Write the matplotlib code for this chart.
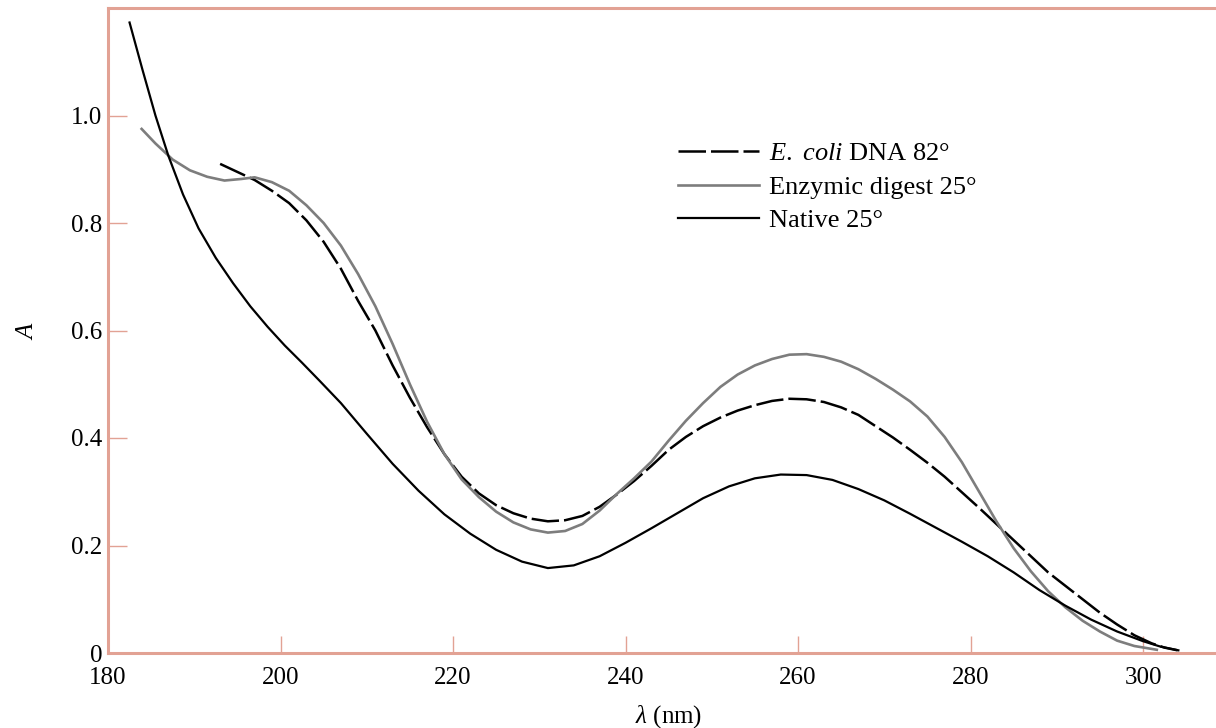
import matplotlib
matplotlib.use("Agg")
from matplotlib import pyplot as plt

plt.rcParams["font.family"] = ["Liberation Serif", "DejaVu Serif"]
plt.rcParams["mathtext.fontset"] = "custom"
plt.rcParams["mathtext.rm"] = "Liberation Serif"
plt.rcParams["mathtext.it"] = "Liberation Serif:italic"

# native DNA, 25 deg
native_x = [182.5, 184, 185.5, 187, 188.7, 190.5, 192.5, 194.5, 196.5, 198.5,
            200.5, 202.5, 204.5, 207, 210, 213, 216, 219, 222, 225, 228, 231,
            234, 237, 240, 243, 246, 249, 252, 255, 258, 261, 264, 267, 270,
            273, 276, 279, 282, 285, 288, 291, 294, 297, 300, 302, 304.1]
native_a = [1.173, 1.085, 1.0, 0.925, 0.853, 0.79, 0.735, 0.688, 0.645, 0.607,
            0.572, 0.54, 0.507, 0.465, 0.408, 0.352, 0.302, 0.258, 0.222, 0.192,
            0.17, 0.158, 0.163, 0.18, 0.205, 0.232, 0.26, 0.288, 0.31, 0.325,
            0.332, 0.331, 0.322, 0.305, 0.284, 0.259, 0.233, 0.207, 0.18, 0.15,
            0.117, 0.088, 0.062, 0.04, 0.022, 0.012, 0.005]

# E. coli DNA at 82 deg
hot_x = [193, 195, 197, 199, 201, 203, 205, 207, 209, 211, 213, 215, 217, 219,
         221, 223, 225, 227, 229, 231, 233, 235, 237, 239, 241, 243, 245, 247,
         249, 251, 253, 255, 257, 259, 261, 263, 265, 267, 269, 271, 273, 275,
         277, 279, 281, 283, 285, 287, 289, 291, 293, 295, 297, 299, 301,
         302.5, 304]
hot_a = [0.91, 0.895, 0.88, 0.86, 0.837, 0.805, 0.765, 0.715, 0.655, 0.6,
         0.535, 0.475, 0.42, 0.37, 0.328, 0.297, 0.275, 0.26, 0.25, 0.245,
         0.247, 0.255, 0.272, 0.295, 0.32, 0.348, 0.378, 0.402, 0.422, 0.438,
         0.451, 0.461, 0.469, 0.473, 0.472, 0.467, 0.457, 0.443, 0.422, 0.401,
         0.378, 0.354, 0.328, 0.299, 0.27, 0.24, 0.21, 0.18, 0.15, 0.125, 0.1,
         0.075, 0.053, 0.033, 0.018, 0.01, 0.005]

# enzymic digest, 25 deg
digest_x = [183.9, 185.5, 187.5, 189.5, 191.5, 193.5, 195.5, 197, 199, 201,
            203, 205, 207, 209, 211, 213, 215, 217, 219, 221, 223, 225, 227,
            229, 231, 233, 235, 237, 239, 241, 243, 245, 247, 249, 251, 253,
            255, 257, 259, 261, 263, 265, 267, 269, 271, 273, 275, 277, 279,
            281, 283, 285, 287, 289, 291, 293, 295, 297, 299, 301.6]
digest_a = [0.975, 0.948, 0.918, 0.898, 0.886, 0.879, 0.882, 0.885, 0.876,
            0.86, 0.833, 0.8, 0.758, 0.705, 0.645, 0.575, 0.5, 0.43, 0.37,
            0.323, 0.29, 0.263, 0.243, 0.23, 0.224, 0.227, 0.24, 0.265, 0.296,
            0.325, 0.356, 0.395, 0.432, 0.465, 0.495, 0.518, 0.535, 0.547,
            0.555, 0.556, 0.551, 0.542, 0.528, 0.51, 0.49, 0.468, 0.44, 0.402,
            0.355, 0.3, 0.245, 0.195, 0.152, 0.115, 0.085, 0.06, 0.04, 0.023,
            0.013, 0.006]

xticks = [180, 200, 220, 240, 260, 280, 300]
yticks = [0, 0.2, 0.4, 0.6, 0.8, 1.0]
ytick_labels = ["0", "0.2", "0.4", "0.6", "0.8", "1.0"]

frame = "#e2a294"

fig = plt.figure(figsize=(12.16, 7.28), dpi=100)
ax = fig.add_axes([108 / 1216, 75 / 728, 130 * 8.625 / 1216, 645 / 728])

ax.plot(hot_x, hot_a, color="black", lw=1.8, dashes=(11, 2),
        label=r"$\it{E.}$ $\it{coli}$ DNA 82°")
ax.plot(digest_x, digest_a, color="#7d7d7d", lw=1.9, label="Enzymic digest 25°")
ax.plot(native_x, native_a, color="black", lw=1.6, label="Native 25°")

ax.set_xlim(180, 310)
ax.set_ylim(0, 1.2)
ax.set_xticks(xticks)
ax.set_yticks(yticks)
ax.set_yticklabels(ytick_labels)

for side in ["left", "bottom", "top", "right"]:
    ax.spines[side].set_color(frame)
    ax.spines[side].set_linewidth(2.2)

ax.tick_params(axis="both", direction="in", color=frame, width=1.0,
               labelsize=18)
ax.tick_params(axis="x", length=12, pad=10)
ax.tick_params(axis="y", length=14, pad=4)

ax.set_xlabel(r"$\lambda$ (nm)", fontsize=18, labelpad=10)
ax.set_ylabel(r"$\it{A}$", fontsize=18, labelpad=24)

ax.legend(loc="upper left", bbox_to_anchor=(574 / 1129, 1 - 134 / 645),
          frameon=False, fontsize=19, handlelength=3.05, handletextpad=0.38,
          labelspacing=0.38, borderpad=0, borderaxespad=0)

fig.savefig("out.png", dpi=100)
